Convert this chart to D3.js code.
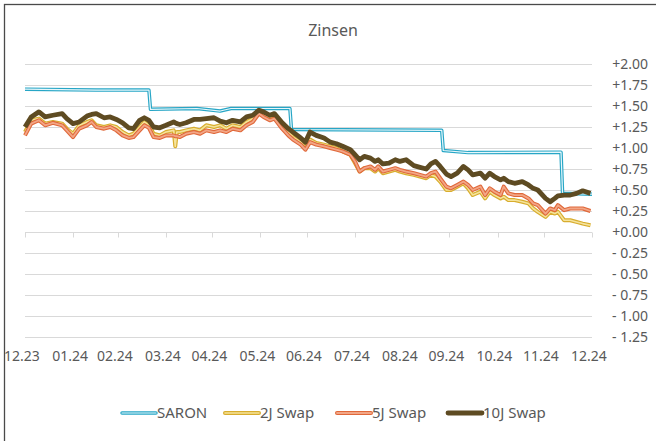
<!DOCTYPE html>
<html>
<head>
<meta charset="utf-8">
<script src="https://cdn.jsdelivr.net/npm/d3@7"></script>
<style>
  body { margin: 0; background: #fff; }
  svg { display: block; font-family: "Noto Sans", sans-serif; }
  .label { fill: #595959; }
</style>
</head>
<body>
<svg id="chart" width="656" height="441"></svg>
<script>

// Data
var swapDates = [
  '2023-12-31','2024-01-04','2024-01-09','2024-01-13','2024-01-18','2024-01-24','2024-01-27','2024-01-31',
  '2024-02-04','2024-02-09','2024-02-12','2024-02-15','2024-02-20','2024-02-24','2024-02-28','2024-03-03',
  '2024-03-07','2024-03-10','2024-03-14','2024-03-17','2024-03-20','2024-03-23','2024-03-27','2024-03-31',
  '2024-04-05','2024-04-06','2024-04-07','2024-04-09','2024-04-13','2024-04-18','2024-04-22','2024-04-26',
  '2024-05-01','2024-05-05','2024-05-09','2024-05-13','2024-05-18','2024-05-22','2024-05-26','2024-05-30',
  '2024-06-02','2024-06-06','2024-06-09','2024-06-14','2024-06-18','2024-06-21','2024-06-26','2024-06-29',
  '2024-07-02','2024-07-06','2024-07-11','2024-07-15','2024-07-19','2024-07-23','2024-07-28','2024-07-31',
  '2024-08-03','2024-08-06','2024-08-10','2024-08-13','2024-08-15','2024-08-18','2024-08-22','2024-08-26',
  '2024-08-29','2024-09-02','2024-09-07','2024-09-11','2024-09-15','2024-09-18','2024-09-21','2024-09-24',
  '2024-09-28','2024-10-01','2024-10-05','2024-10-09','2024-10-12','2024-10-15','2024-10-20','2024-10-23',
  '2024-10-26','2024-10-29','2024-11-02','2024-11-04','2024-11-07','2024-11-11','2024-11-16','2024-11-20',
  '2024-11-23','2024-11-26','2024-12-01','2024-12-04','2024-12-07','2024-12-09','2024-12-13','2024-12-17',
  '2024-12-21','2024-12-25','2024-12-30'
];

var swap2J = [
  1.19, 1.33, 1.35, 1.29, 1.31, 1.29, 1.23, 1.17,
  1.27, 1.31, 1.33, 1.27, 1.25, 1.27, 1.25, 1.19,
  1.15, 1.17, 1.25, 1.31, 1.27, 1.17, 1.15, 1.19,
  1.21, 1.02, 1.19, 1.19, 1.21, 1.23, 1.21, 1.27,
  1.25, 1.27, 1.23, 1.27, 1.25, 1.31, 1.35, 1.45,
  1.39, 1.37, 1.39, 1.25, 1.19, 1.13, 1.07, 1.00,
  1.10, 1.06, 1.04, 1.02, 1.00, 0.96, 0.92, 0.82,
  0.72, 0.76, 0.76, 0.72, 0.76, 0.70, 0.72, 0.74,
  0.72, 0.70, 0.68, 0.66, 0.64, 0.68, 0.66, 0.60,
  0.50, 0.50, 0.54, 0.58, 0.52, 0.44, 0.48, 0.40,
  0.48, 0.44, 0.40, 0.42, 0.38, 0.38, 0.36, 0.34,
  0.28, 0.24, 0.18, 0.24, 0.22, 0.24, 0.14, 0.14,
  0.12, 0.10, 0.08
];

var swap5J = [
  1.15, 1.29, 1.33, 1.27, 1.30, 1.27, 1.21, 1.13,
  1.23, 1.27, 1.31, 1.25, 1.23, 1.25, 1.21, 1.15,
  1.12, 1.13, 1.21, 1.27, 1.24, 1.13, 1.12, 1.15,
  1.15, 1.14, 1.14, 1.13, 1.17, 1.19, 1.17, 1.21,
  1.19, 1.21, 1.19, 1.23, 1.21, 1.27, 1.31, 1.41,
  1.37, 1.33, 1.35, 1.23, 1.15, 1.10, 1.04, 0.98,
  1.07, 1.04, 1.02, 1.00, 0.98, 0.96, 0.92, 0.84,
  0.72, 0.76, 0.78, 0.74, 0.78, 0.72, 0.74, 0.76,
  0.74, 0.72, 0.70, 0.68, 0.66, 0.70, 0.72, 0.64,
  0.54, 0.52, 0.56, 0.60, 0.56, 0.50, 0.54, 0.44,
  0.52, 0.48, 0.44, 0.54, 0.46, 0.44, 0.44, 0.40,
  0.34, 0.32, 0.22, 0.28, 0.26, 0.32, 0.26, 0.28,
  0.28, 0.28, 0.25
];

var swap10J = [
  1.25, 1.37, 1.43, 1.37, 1.39, 1.41, 1.35, 1.29,
  1.31, 1.38, 1.40, 1.41, 1.36, 1.37, 1.34, 1.30,
  1.24, 1.23, 1.33, 1.36, 1.33, 1.25, 1.24, 1.27,
  1.31, 1.30, 1.29, 1.28, 1.30, 1.34, 1.34, 1.35,
  1.36, 1.32, 1.30, 1.33, 1.31, 1.37, 1.39, 1.45,
  1.43, 1.39, 1.41, 1.30, 1.23, 1.19, 1.12, 1.07,
  1.19, 1.15, 1.12, 1.07, 1.05, 1.02, 0.98, 0.92,
  0.86, 0.90, 0.88, 0.84, 0.86, 0.81, 0.82, 0.86,
  0.84, 0.86, 0.79, 0.77, 0.75, 0.81, 0.84, 0.78,
  0.69, 0.66, 0.70, 0.78, 0.74, 0.68, 0.70, 0.64,
  0.70, 0.66, 0.62, 0.64, 0.60, 0.58, 0.60, 0.56,
  0.52, 0.50, 0.40, 0.36, 0.40, 0.43, 0.44, 0.44,
  0.46, 0.49, 0.46
];

var saronDates = [
  '2023-12-31','2024-02-15','2024-03-20','2024-03-21','2024-04-20','2024-05-05','2024-05-12',
  '2024-06-19','2024-06-20','2024-09-25','2024-09-26','2024-10-12','2024-12-11','2024-12-12','2024-12-31'
];
var saronValues = [1.70, 1.69, 1.69, 1.46, 1.47, 1.44, 1.47, 1.47, 1.22, 1.21, 0.97, 0.945, 0.95, 0.46, 0.45];

var yTicks = [2.00, 1.75, 1.50, 1.25, 1.00, 0.75, 0.50, 0.25, 0.00, -0.25, -0.50, -0.75, -1.00, -1.25];
var xTickDates = [
  '2023-12-31','2024-01-31','2024-02-29','2024-03-31','2024-04-30','2024-05-31','2024-06-30',
  '2024-07-31','2024-08-31','2024-09-30','2024-10-31','2024-11-30','2024-12-31'
];

var seriesNames = ['SARON', '2J Swap', '5J Swap', '10J Swap'];

// Styles per series: outer stroke + lighter inner stroke
var styles = {
  'SARON':    {outer: '#27a6c6', inner: '#e8f7fb', w: 3.5, wi: 1.2},
  '2J Swap':  {outer: '#d8ad2e', inner: '#f5e39c', w: 4, wi: 1.6},
  '5J Swap':  {outer: '#e0683a', inner: '#f2a686', w: 4, wi: 1.8},
  '10J Swap': {outer: '#5e4b22', inner: null, w: 4.8, wi: 0}
};

var parse = d3.timeParse('%Y-%m-%d');
var fmtMonth = d3.timeFormat('%m.%y');

var svg = d3.select('#chart');

var xScale = d3.scaleTime()
    .domain([parse('2023-12-31'), parse('2024-12-31')])
    .range([25, 592]);

var yScale = d3.scaleLinear()
    .domain([-1.25, 2.0])
    .range([337, 64]);

// outer frame
svg.append('rect')
    .attr('x', 4.5)
    .attr('y', 4.5)
    .attr('width', 700)
    .attr('height', 500)
    .attr('fill', 'none')
    .attr('stroke', '#4a4a4a')
    .attr('stroke-width', 1.3);

// title
svg.append('text')
    .attr('class', 'label')
    .attr('x', 333)
    .attr('y', 36)
    .attr('text-anchor', 'middle')
    .style('font-size', '16px')
    .text('Zinsen');

// gridlines
svg.selectAll('.grid').data(yTicks)
  .enter()
    .append('line')
    .attr('class', 'grid')
    .attr('x1', xScale.range()[0])
    .attr('x2', xScale.range()[1])
    .attr('y1', function(d) { return Math.round(yScale(d)) + 0.5; })
    .attr('y2', function(d) { return Math.round(yScale(d)) + 0.5; })
    .attr('stroke', '#d9d9d9')
    .attr('stroke-width', 1);

// y labels on the right
function fmtY(d) {
  var s = Math.abs(d).toFixed(2);
  return d < 0 ? '- ' + s : '+' + s;
}

svg.selectAll('.ylab').data(yTicks)
  .enter()
    .append('text')
    .attr('class', 'label ylab')
    .attr('x', 648)
    .attr('y', function(d) { return yScale(d); })
    .attr('dy', '0.35em')
    .attr('text-anchor', 'end')
    .style('font-size', '14px')
    .text(fmtY);

// x ticks on the zero line
var xTicks = xTickDates.map(parse);

svg.selectAll('.xtick').data(xTicks)
  .enter()
    .append('line')
    .attr('class', 'xtick')
    .attr('x1', function(d) { return Math.round(xScale(d)) + 0.5; })
    .attr('x2', function(d) { return Math.round(xScale(d)) + 0.5; })
    .attr('y1', Math.round(yScale(0)) + 0.5)
    .attr('y2', Math.round(yScale(0)) + 5.5)
    .attr('stroke', '#d9d9d9')
    .attr('stroke-width', 1);

svg.selectAll('.xlab').data(xTicks)
  .enter()
    .append('text')
    .attr('class', 'label xlab')
    .attr('x', function(d) { return xScale(d) - 3; })
    .attr('y', 361)
    .attr('text-anchor', 'middle')
    .style('font-size', '14px')
    .text(fmtMonth);

// series
var series = [
  {name: 'SARON', values: saronDates.map(function(d, i) { return {date: parse(d), value: saronValues[i]}; })},
  {name: '2J Swap', values: swapDates.map(function(d, i) { return {date: parse(d), value: swap2J[i]}; })},
  {name: '5J Swap', values: swapDates.map(function(d, i) { return {date: parse(d), value: swap5J[i]}; })},
  {name: '10J Swap', values: swapDates.map(function(d, i) { return {date: parse(d), value: swap10J[i]}; })}
];

var line = d3.line()
    .x(function(d) { return xScale(d.date); })
    .y(function(d) { return yScale(d.value); });

series.forEach(function(s) {
  var st = styles[s.name];
  svg.append('path')
      .datum(s.values)
      .attr('d', line)
      .attr('fill', 'none')
      .attr('stroke', st.outer)
      .attr('stroke-width', st.w)
      .attr('stroke-linejoin', 'round');
  if (st.inner) {
    svg.append('path')
        .datum(s.values)
        .attr('d', line)
        .attr('fill', 'none')
        .attr('stroke', st.inner)
        .attr('stroke-width', st.wi)
        .attr('stroke-linejoin', 'round');
  }
});

// legend
var legendX = [122, 225, 337, 448];

var legend = svg.selectAll('.legend').data(seriesNames)
  .enter()
    .append('g')
    .attr('class', 'legend')
    .attr('transform', function(d, i) { return 'translate(' + legendX[i] + ',413)'; });

legend.append('line')
    .attr('x1', 0)
    .attr('x2', 34)
    .attr('stroke', function(d) { return styles[d].outer; })
    .attr('stroke-width', function(d) { return styles[d].w; })
    .attr('stroke-linecap', 'round');

legend.filter(function(d) { return styles[d].inner; })
  .append('line')
    .attr('x1', 0)
    .attr('x2', 34)
    .attr('stroke', function(d) { return styles[d].inner; })
    .attr('stroke-width', function(d) { return styles[d].wi; })
    .attr('stroke-linecap', 'round');

legend.append('text')
    .attr('class', 'label')
    .attr('x', 35)
    .attr('dy', '0.35em')
    .style('font-size', '15px')
    .text(function(d) { return d; });

</script>
</body>
</html>
